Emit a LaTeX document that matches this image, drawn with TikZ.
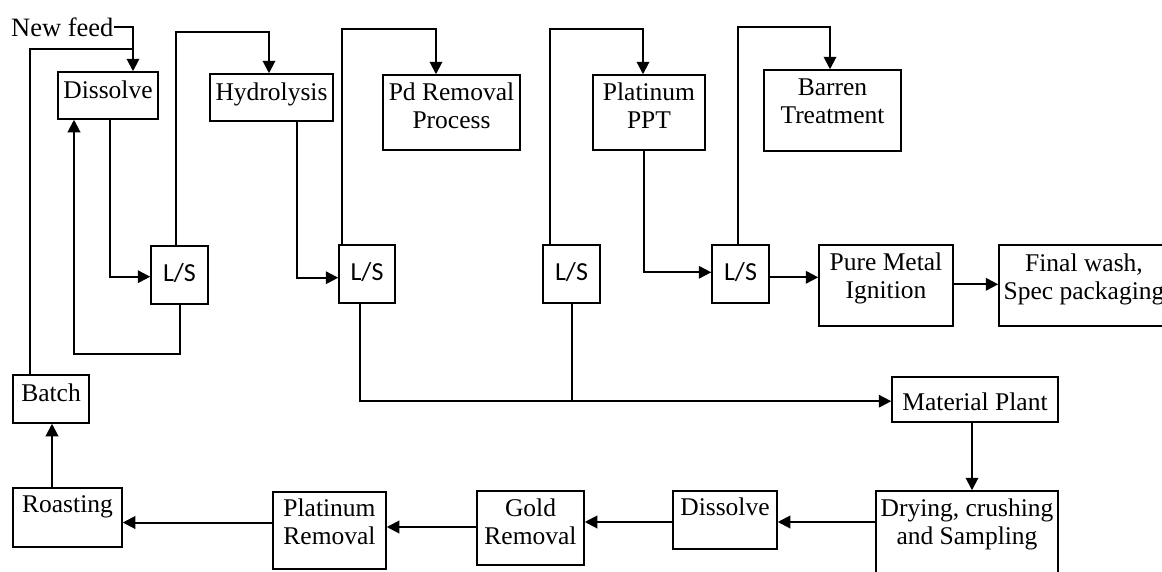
\documentclass[tikz,border=0pt]{standalone}
\usepackage{fontspec}
\setmainfont{Liberation Serif}
\newfontfamily\lsfont{Carlito}
\usetikzlibrary{arrows.meta,fit}
\tikzset{
  box/.style={draw=black, line width=1.5pt, inner sep=0pt},
  lbl/.style={inner sep=0pt, align=center, font=\fontsize{25.5}{28}\selectfont},
  lstext/.style={inner sep=0pt, font=\lsfont\fontsize{26}{28}\selectfont},
  line/.style={draw=black, line width=2pt},
  arr/.style={line, -{Triangle[length=12.5pt,width=12.5pt]}}
}
\newcommand\procbox[5][8.5]{%
  \node[box, fit={(#3) (#4)}] (#2) {};
  \node[lbl, anchor=north] (#2-t) at ([yshift=-#1pt]#2.north) {#5};
}
\newcommand\lsbox[3]{%
  \node[box, fit={(#2) (#3)}] (#1) {};
  \node[lstext, anchor=base] (#1-t) at ([yshift=-6pt]#1.center) {L/S};
}
\begin{document}
\begin{tikzpicture}[x=1pt, y=-1pt]
\useasboundingbox (0,0) rectangle (1162,571);
\fill[white] (0,0) rectangle (1162,571);
\clip (0,0) rectangle (1162,571);

% top row
\procbox[9.5]{dis1}{58,72}{158,119}{Dissolve}
\procbox[9]{hyd}{210,74}{333,121}{Hydrolysis}
\procbox[8]{pd}{383,75}{520,150}{Pd Removal\\Process}
\procbox[8]{ppt}{593,75}{705,150}{Platinum\\PPT}
\procbox[9.5]{bar}{764,70}{901,151}{Barren\\Treatment}

% L/S row
\lsbox{ls1}{151,246}{208,304}
\lsbox{ls2}{339,245}{395,303}
\lsbox{ls3}{543,245}{600,303}
\lsbox{ls4}{712,245}{769,303}
\procbox[8.5]{pmi}{819,245}{953,326}{Pure Metal\\Ignition}
\procbox[9.5]{fin}{999,245}{1169,326}{Final wash,\\Spec packaging}

% lower part
\procbox[16.5]{mat}{892,377}{1058,422}{Material Plant}
\procbox[8.5]{dry}{876,491}{1058,600}{Drying, crushing\\and Sampling}
\procbox[7.5]{dis2}{673,491}{777,549}{Dissolve}
\procbox[8.5]{gold}{477,491}{584,565}{Gold\\Removal}
\procbox[7.5]{ptr}{273,492}{386,569}{Platinum\\Removal}
\procbox[8.5]{roa}{13,488}{122,547}{Roasting}
\procbox[9.5]{bat}{13,375}{89,423}{Batch}

\node[inner sep=0pt, anchor=base west, font=\fontsize{26.5}{30}\selectfont] (feed) at (11,36) {New feed};

% connectors
\draw[arr] (feed.east) -| ([xshift=25pt]dis1.north);
\coordinate (feedj) at (133,49);
\draw[line] ([xshift=-21pt]bat.north) |- (feedj);
\draw[arr] ([xshift=2pt]dis1.south) |- ([yshift=-1.7pt]ls1.west);
\draw[arr] (ls1.south) -- ++(0,49.3) -| ([xshift=-34pt]dis1.south);
\draw[arr] ([xshift=-3.5pt]ls1.north) -- ++(0,-213) -| ([xshift=-2.5pt]hyd.north);
\draw[arr] ([xshift=25.5pt]hyd.south) |- ([yshift=-3.7pt]ls2.west);
\draw[arr] ([xshift=-25pt]ls2.north) -- ++(0,-215) -| ([xshift=-15.5pt]pd.north);
\coordinate (matin) at ([yshift=-1.7pt]mat.west);
\draw[arr] ([xshift=-7pt]ls2.south) |- (matin);
\coordinate (ls3out) at ([xshift=0.5pt]ls3.south);
\draw[line] (ls3out) -- (ls3out |- matin);
\draw[arr] ([xshift=-22pt]ls3.north) -- ++(0,-215) -| ([xshift=-6pt]ppt.north);
\draw[arr] ([xshift=-5pt]ppt.south) |- ([yshift=1.7pt]ls4.west);
\draw[arr] ([xshift=-3pt]ls4.north) -- ++(0,-217) -| ([xshift=-2.5pt]bar.north);
\coordinate (pmiin) at ([yshift=-3.3pt]ls4.east);
\draw[arr] (pmiin) -- (pmiin -| pmi.west);
\coordinate (finin) at ([yshift=1.2pt]pmi.east);
\draw[arr] (finin) -- (finin -| fin.west);
\coordinate (matout) at ([xshift=-3pt]mat.south);
\draw[arr] (matout) -- (matout |- dry.north);
\coordinate (dryout) at ([yshift=-2pt]dis2.east);
\draw[arr] (dryout -| dry.west) -- (dryout);
\coordinate (dis2out) at ([yshift=-2pt]dis2.west);
\draw[arr] (dis2out) -- (dis2out -| gold.east);
\coordinate (goldout) at ([yshift=1pt]gold.west);
\draw[arr] (goldout) -- (goldout -| ptr.east);
\coordinate (roain) at ([yshift=-5pt]roa.east);
\draw[arr] (roain -| ptr.west) -- (roain);
\coordinate (roaout) at ([xshift=-15.5pt]roa.north);
\draw[arr] (roaout) -- (roaout |- bat.south);
\end{tikzpicture}
\end{document}
